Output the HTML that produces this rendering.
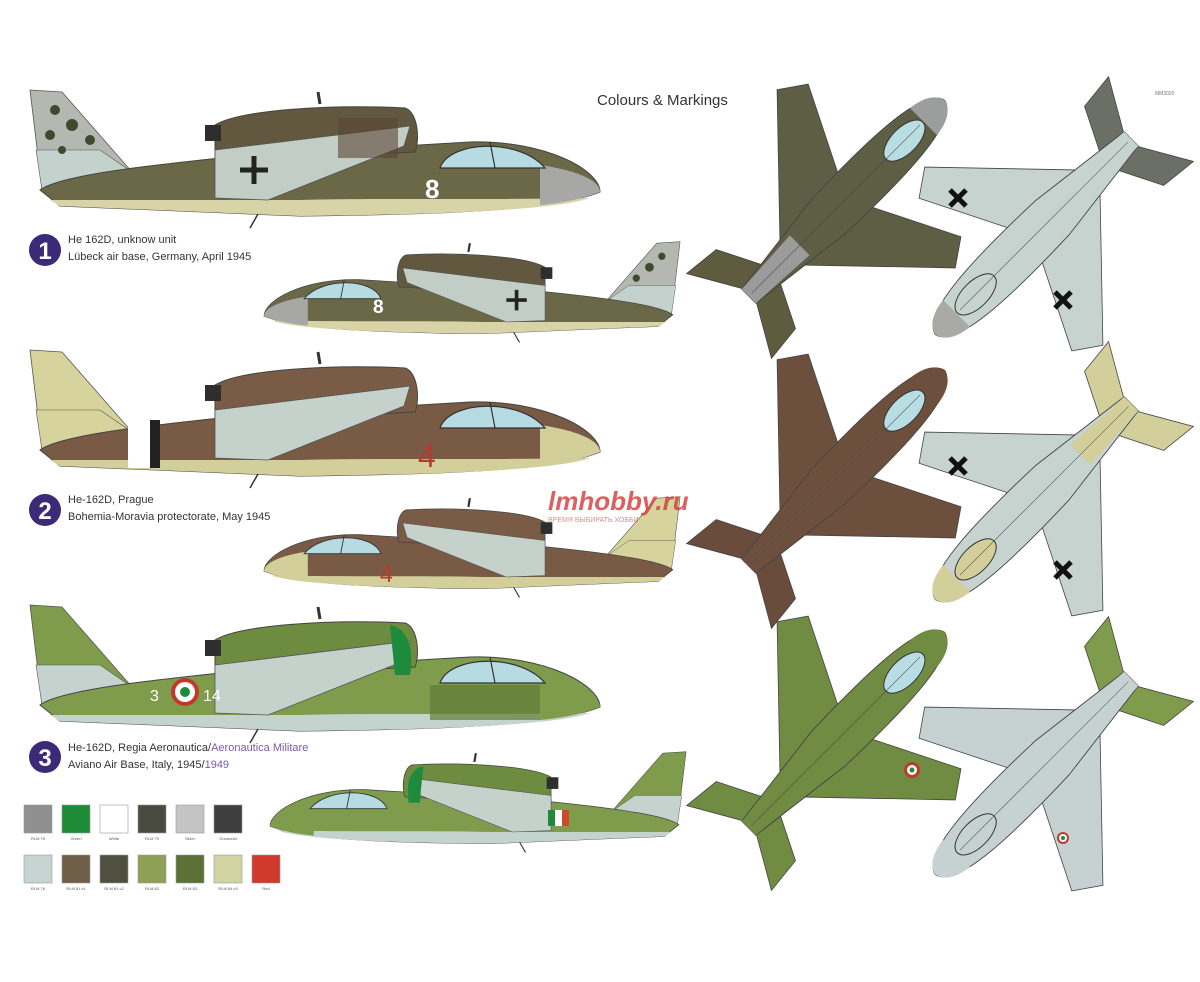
<!DOCTYPE html>
<html><head><meta charset="utf-8"><style>
html,body{margin:0;padding:0;background:#fff;}
svg{display:block;font-family:"Liberation Sans",sans-serif;}
</style></head><body>
<svg width="1200" height="982" viewBox="0 0 1200 982" xmlns="http://www.w3.org/2000/svg">
<defs>
 <g id="side">
  <path d="M30,90 L62,92 L132,172 L118,190 L42,190 Z" fill="var(--fin)" stroke="#555" stroke-width="0.8"/>
  <path d="M36,150 L100,150 L132,172 L118,190 L42,190 Z" fill="var(--fin2)" stroke="#555" stroke-width="0.6"/>
  <path d="M40,190 C60,175 150,165 250,155 L470,142 C545,140 600,170 600,192 C560,208 480,214 300,216 L60,206 Z" fill="var(--top)" stroke="#444" stroke-width="1"/>
  <path d="M50,200 L300,200 C380,198 480,200 590,198 C560,208 480,214 300,216 L60,206 Z" fill="var(--low)"/>
  <path d="M540,165 C575,170 600,180 600,192 C580,200 560,203 540,205 Z" fill="var(--nose)"/>
  <path d="M215,125 C240,110 330,104 405,108 C418,112 420,140 415,152 L215,162 Z" fill="var(--eng)" stroke="#444" stroke-width="1"/>
  <rect x="205" y="125" width="16" height="16" fill="#2e2e2e"/>
  <line x1="320" y1="104" x2="318" y2="92" stroke="#333" stroke-width="3"/>
  <path d="M215,150 L410,126 L404,146 L268,200 L215,198 Z" fill="var(--wing)" stroke="#555" stroke-width="0.8"/>
  <path d="M440,168 C450,140 520,138 545,168 Z" fill="#b7dbe2" stroke="#333" stroke-width="1.2"/>
  <line x1="490" y1="142" x2="495" y2="168" stroke="#333" stroke-width="1.2"/>
  <line x1="258" y1="214" x2="250" y2="228" stroke="#333" stroke-width="1.5"/>
 </g>
 <g id="top">
  <path d="M-8,78 L-56,102 L-60,140 L-8,110 Z" fill="var(--tail)" stroke="#444" stroke-width="0.8"/>
  <path d="M8,78 L56,102 L60,140 L8,110 Z" fill="var(--tail)" stroke="#444" stroke-width="0.8"/>
  <path d="M-18,-35 L-108,-80 L-126,-54 L-18,50 Z" fill="var(--body)" stroke="#444" stroke-width="0.8"/>
  <path d="M18,-35 L108,-80 L126,-54 L18,50 Z" fill="var(--body)" stroke="#444" stroke-width="0.8"/>
  <path d="M0,-165 C24,-160 27,-90 24,0 L10,112 L-10,112 L-24,0 C-27,-90 -24,-160 0,-165 Z" fill="var(--body)" stroke="#444" stroke-width="0.9"/>
  <path d="M0,-165 C14,-162 18,-145 19,-135 L-19,-135 C-18,-145 -14,-162 0,-165 Z" fill="var(--nose)"/>
  <path d="M14,40 L10,112 L-10,112 L-14,40 Z" fill="var(--aft)"/>
  <ellipse cx="0" cy="-108" rx="13" ry="26" fill="var(--can)" stroke="#333" stroke-width="1"/>
  <line x1="0" y1="-130" x2="0" y2="108" stroke="#444" stroke-width="0.5"/>
 </g>
</defs>

<g style="--fin:#b4b8b0;--fin2:#c3d2cd;--top:#6a6847;--low:#d8d4a8;--nose:#a7a8a6;--eng:#62583f;--wing:#c2cdc6">
 <use href="#side"/>
 <g fill="#3e4a30"><circle cx="55" cy="110" r="5"/><circle cx="72" cy="125" r="6"/><circle cx="50" cy="135" r="5"/><circle cx="90" cy="140" r="5"/><circle cx="62" cy="150" r="4"/></g>
 <rect x="338" y="118" width="60" height="40" fill="#584636" opacity="0.6"/>
 <text x="425" y="198" font-size="26" fill="#fff" font-weight="bold">8</text>
 <path d="M240,170 h28 M254,156 v28" stroke="#222" stroke-width="5"/>
</g>
<g transform="translate(702,176) scale(-0.73,0.73)" style="--fin:#b4b8b0;--fin2:#c3d2cd;--top:#6a6847;--low:#d8d4a8;--nose:#a7a8a6;--eng:#62583f;--wing:#c2cdc6">
 <use href="#side"/>
 <g fill="#3e4a30"><circle cx="55" cy="110" r="5"/><circle cx="72" cy="125" r="6"/><circle cx="90" cy="140" r="5"/></g>
 <path d="M240,170 h28 M254,156 v28" stroke="#222" stroke-width="5"/>
</g>
<text x="373" y="313" font-size="19" fill="#fff" font-weight="bold">8</text>

<g transform="translate(0,260)" style="--fin:#d6d39c;--fin2:#d6d39c;--top:#785a45;--low:#d3cf9b;--nose:#d3cf9b;--eng:#7a5b46;--wing:#c5d1cb">
 <use href="#side"/>
 <rect x="128" y="163" width="22" height="45" fill="#fff"/><rect x="150" y="160" width="10" height="48" fill="#222"/>
 <text x="418" y="207" font-size="32" fill="#b83a2a">4</text>
</g>
<g transform="translate(702,431) scale(-0.73,0.73)" style="--fin:#d6d39c;--fin2:#d6d39c;--top:#785a45;--low:#d3cf9b;--nose:#d3cf9b;--eng:#7a5b46;--wing:#c5d1cb">
 <use href="#side"/>
</g>
<text x="380" y="582" font-size="23" fill="#b83a2a">4</text>

<g transform="translate(0,515)" style="--fin:#7f9c4c;--fin2:#c5d3cf;--top:#7f9c4c;--low:#c5d3cf;--nose:#7f9c4c;--eng:#6e8c40;--wing:#c5d1cb">
 <use href="#side"/>
 <path d="M390,110 C405,112 415,130 410,160 L395,160 Z" fill="#1e8a3c"/>
 <rect x="430" y="170" width="110" height="35" fill="#5f7b36" opacity="0.7"/>
 <circle cx="185" cy="177" r="14" fill="#c0392b"/><circle cx="185" cy="177" r="10" fill="#fff"/><circle cx="185" cy="177" r="5" fill="#1f8a3a"/>
 <text x="150" y="186" font-size="16" fill="#fff">3</text><text x="203" y="186" font-size="16" fill="#fff">14</text>
</g>
<g transform="translate(708,686) scale(-0.73,0.73)" style="--fin:#7f9c4c;--fin2:#c5d3cf;--top:#7f9c4c;--low:#c5d3cf;--nose:#7f9c4c;--eng:#6e8c40;--wing:#c5d1cb">
 <use href="#side"/>
 <path d="M390,110 C405,112 415,130 410,160 L395,160 Z" fill="#1e8a3c"/>
</g>
<rect x="548" y="810" width="7" height="16" fill="#1f8a3a"/><rect x="555" y="810" width="7" height="16" fill="#fff"/><rect x="562" y="810" width="7" height="16" fill="#d04a2a"/>

<g transform="translate(828,217) rotate(45)" style="--tail:#5e5b3f;--body:#5d5e43;--nose:#9c9d9d;--aft:#9a9b9a;--can:#b8dde3"><use href="#top"/></g>
<g transform="translate(1052,218) rotate(225)" style="--tail:#6c6f66;--body:#c6d3cf;--nose:#a9aaa8;--aft:#c6d3cf;--can:#c6d3cf"><use href="#top"/></g>
<path d="M950,190 l16,16 M966,190 l-16,16 M1055,292 l16,16 M1071,292 l-16,16" stroke="#111" stroke-width="5"/>

<g transform="translate(828,487) rotate(45)" style="--tail:#6a4c3c;--body:#6d4f3e;--nose:#6d4f3e;--aft:#6d4f3e;--can:#b8dde3"><use href="#top"/></g>
<g transform="translate(1052,483) rotate(225)" style="--tail:#d3cf9b;--body:#c6d3cf;--nose:#d3cf9b;--aft:#d3cf9b;--can:#d3cf9b"><use href="#top"/></g>
<path d="M950,458 l16,16 M966,458 l-16,16 M1055,562 l16,16 M1071,562 l-16,16" stroke="#111" stroke-width="5"/>

<g transform="translate(828,749) rotate(45)" style="--tail:#6f8c42;--body:#6f8c42;--nose:#6f8c42;--aft:#6f8c42;--can:#b8dde3"><use href="#top"/></g>
<g transform="translate(1052,758) rotate(225)" style="--tail:#7f9c4c;--body:#c6d2d2;--nose:#c6d2d2;--aft:#c6d2d2;--can:#c6d2d2"><use href="#top"/></g>
<circle cx="912" cy="770" r="8" fill="#c0392b"/><circle cx="912" cy="770" r="5" fill="#fff"/><circle cx="912" cy="770" r="2.5" fill="#1f8a3a"/>
<circle cx="1063" cy="838" r="6" fill="#c0392b"/><circle cx="1063" cy="838" r="4" fill="#fff"/><circle cx="1063" cy="838" r="2" fill="#1f8a3a"/>

<text x="597" y="105" font-size="15" fill="#333">Colours &amp; Markings</text>
<text x="1155" y="95" font-size="5" fill="#777">MM3020</text>

<circle cx="45" cy="250" r="16" fill="#3a2a78"/><text x="45" y="259" font-size="24" font-weight="bold" fill="#fff" text-anchor="middle">1</text>
<text x="68" y="243" font-size="11" fill="#333">He 162D, unknow unit</text>
<text x="68" y="260" font-size="11" fill="#333">Lübeck air base, Germany, April 1945</text>

<circle cx="45" cy="510" r="16" fill="#3a2a78"/><text x="45" y="519" font-size="24" font-weight="bold" fill="#fff" text-anchor="middle">2</text>
<text x="68" y="503" font-size="11" fill="#333">He-162D, Prague</text>
<text x="68" y="520" font-size="11" fill="#333">Bohemia-Moravia protectorate, May 1945</text>

<circle cx="45" cy="757" r="16" fill="#3a2a78"/><text x="45" y="766" font-size="24" font-weight="bold" fill="#fff" text-anchor="middle">3</text>
<text x="68" y="751" font-size="11" fill="#333">He-162D, Regia Aeronautica/<tspan fill="#7a5aa8">Aeronautica Militare</tspan></text>
<text x="68" y="768" font-size="11" fill="#333">Aviano Air Base, Italy, 1945/<tspan fill="#7a5aa8">1949</tspan></text>

<text x="548" y="510" font-size="26" font-style="italic" font-weight="bold" fill="#d33a3a" opacity="0.8">lmhobby.ru</text>
<text x="548" y="522" font-size="7" fill="#d33a3a" opacity="0.6">ВРЕМЯ ВЫБИРАТЬ ХОББИ</text>

<g stroke="#999" stroke-width="0.6">
 <rect x="24" y="805" width="28" height="28" fill="#8f8f8f"/>
 <rect x="62" y="805" width="28" height="28" fill="#1d8a36"/>
 <rect x="100" y="805" width="28" height="28" fill="#ffffff"/>
 <rect x="138" y="805" width="28" height="28" fill="#494a40"/>
 <rect x="176" y="805" width="28" height="28" fill="#c4c4c4"/>
 <rect x="214" y="805" width="28" height="28" fill="#3e3e3e"/>
 <rect x="24" y="855" width="28" height="28" fill="#c5d4d0"/>
 <rect x="62" y="855" width="28" height="28" fill="#6e5e48"/>
 <rect x="100" y="855" width="28" height="28" fill="#4f5040"/>
 <rect x="138" y="855" width="28" height="28" fill="#8ea055"/>
 <rect x="176" y="855" width="28" height="28" fill="#5c7038"/>
 <rect x="214" y="855" width="28" height="28" fill="#d2d5a2"/>
 <rect x="252" y="855" width="28" height="28" fill="#cf3a2d"/>
</g>
<g font-size="4" fill="#555" text-anchor="middle">
 <text x="38" y="840">RLM 76</text><text x="76" y="840">Green</text><text x="114" y="840">White</text><text x="152" y="840">RLM 79</text><text x="190" y="840">Silver</text><text x="228" y="840">Gunmetal</text>
 <text x="38" y="890">RLM 76</text><text x="76" y="890">RLM 81 v1</text><text x="114" y="890">RLM 81 v2</text><text x="152" y="890">RLM 82</text><text x="190" y="890">RLM 83</text><text x="228" y="890">RLM 84 v3</text><text x="266" y="890">Red</text>
</g>
</svg>
</body></html>
